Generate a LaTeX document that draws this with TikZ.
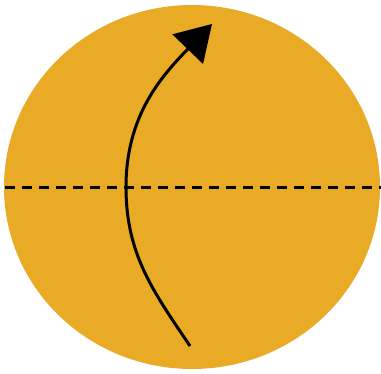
\documentclass[tikz,border=0pt]{standalone}
\usetikzlibrary{arrows.meta}
\definecolor{gold}{HTML}{E9AA26}
\begin{document}
\begin{tikzpicture}[x=1pt,y=1pt,
  foldline/.style={line width=3pt,dash pattern=on 10pt off 7pt},
  turnarrow/.style={line width=3pt,-{Triangle[length=35pt,width=42pt]}}]
\useasboundingbox (0,0) rectangle (381,373);
\fill[gold] (192,186) ellipse [x radius=188, y radius=182];
\coordinate (dl) at (5,185);
\coordinate (dr) at (381,185);
\draw[foldline] (dl) -- (dr);
\coordinate (s) at (190,27);
\coordinate (m) at (126,186);
\coordinate (e) at (212,349);
\draw[turnarrow] (s) to[out=124,in=-90] (m) to[out=90,in=226] (e);
\end{tikzpicture}
\end{document}
